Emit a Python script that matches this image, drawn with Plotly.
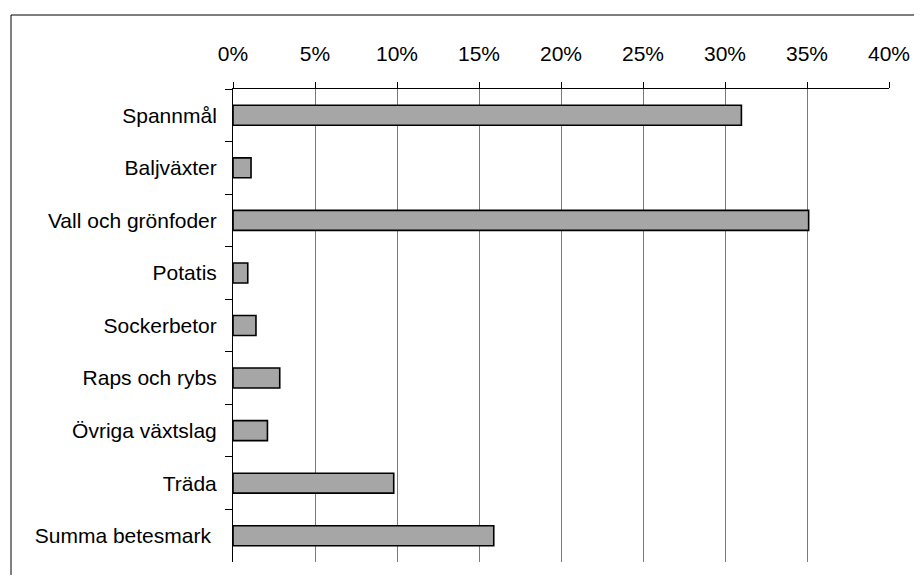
import plotly.graph_objects as go

categories = ["Spannmål", "Baljväxter", "Vall och grönfoder", "Potatis", "Sockerbetor",
              "Raps och rybs", "Övriga växtslag", "Träda", "Summa betesmark\u00a0"]
values = [31.0, 1.1, 35.1, 0.9, 1.4, 2.85, 2.1, 9.8, 15.9]
x_ticks = [0, 5, 10, 15, 20, 25, 30, 35, 40]
x_tick_labels = [f"{v}%" for v in x_ticks]

# the page body has an 8px default margin, so the figure is offset by 8px
OFF = 8
W, H = 922 - OFF, 575 - OFF
ML, MR, MT, MB = 233 - OFF, 33, 89 - OFF, 13
pw, ph = W - ML - MR, H - MT - MB

fig = go.Figure(go.Bar(
    y=categories, x=values, orientation="h",
    marker=dict(color="#a6a6a6", line=dict(color="black", width=1.6)),
    hoverinfo="skip",
))

font = dict(family="Liberation Sans, Arial, sans-serif", size=21, color="black")

fig.update_layout(
    width=W, height=H,
    margin=dict(l=ML, r=MR, t=MT, b=MB, pad=0),
    paper_bgcolor="white", plot_bgcolor="white",
    bargap=0.62, showlegend=False, font=font,
    xaxis=dict(side="top", range=[0, 40], tickvals=x_ticks, ticktext=x_tick_labels,
               showgrid=True, gridcolor="#7a7a7a", gridwidth=1,
               showline=True, linecolor="black", linewidth=1,
               ticks="outside", ticklen=6, tickcolor="black",
               ticklabelstandoff=13, zeroline=False, tickfont=font),
    yaxis=dict(autorange="reversed", type="category",
               showgrid=False, showline=True, linecolor="black", linewidth=1,
               ticks="outside", ticklen=7, tickcolor="black", tickson="boundaries",
               ticklabelstandoff=11, tickfont=font),
)

# outer chart-area border (extends past the right and bottom edges of the page)
x0 = (11 - OFF - ML) / pw
y1 = (H - MB - (15 - OFF)) / ph
fig.add_shape(type="rect", xref="paper", yref="paper",
              x0=x0, x1=1.2, y0=-0.2, y1=y1,
              line=dict(color="black", width=1), fillcolor="rgba(0,0,0,0)", layer="below")

fig.write_html("out.html")
